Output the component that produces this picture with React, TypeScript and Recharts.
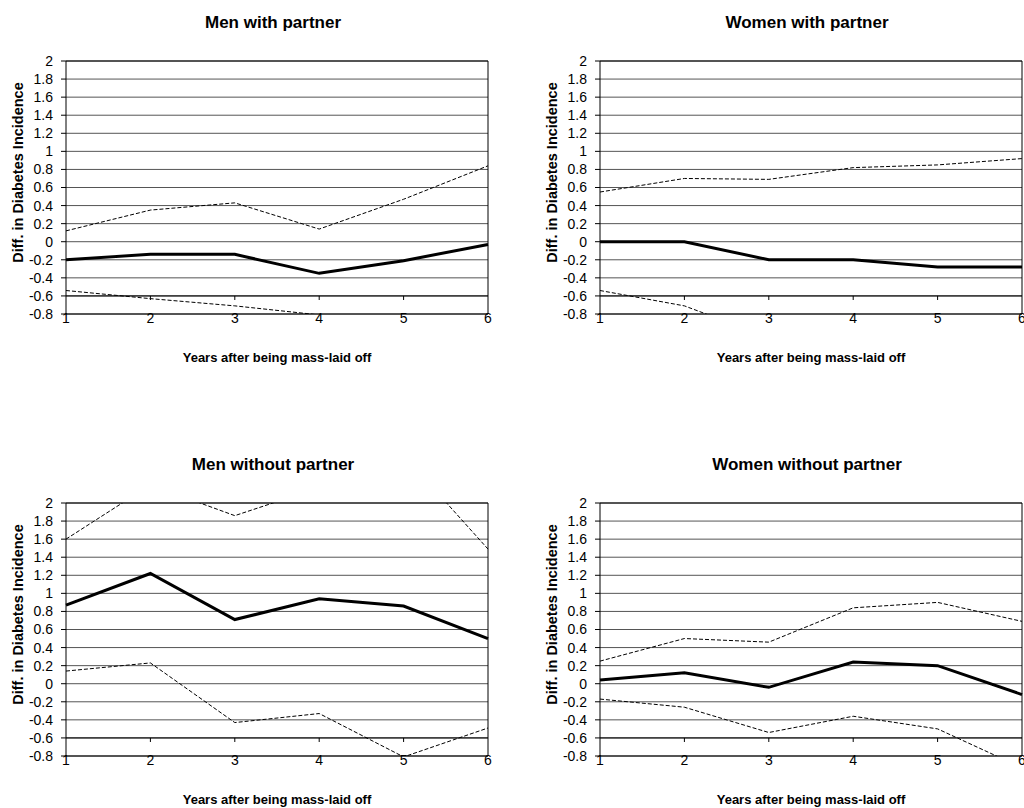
import { LineChart, Line, XAxis, YAxis, CartesianGrid, ReferenceLine, Label } from "recharts";

const years = [1, 2, 3, 4, 5, 6];
const yTicks = [-0.8, -0.6, -0.4, -0.2, 0, 0.2, 0.4, 0.6, 0.8, 1, 1.2, 1.4, 1.6, 1.8, 2];

const menPartnerMean = [-0.2, -0.14, -0.14, -0.35, -0.21, -0.03];
const menPartnerUpper = [0.12, 0.35, 0.43, 0.14, 0.47, 0.84];
const menPartnerLower = [-0.54, -0.63, -0.71, -0.81, -0.95, -0.9];

const womenPartnerMean = [0, 0, -0.2, -0.2, -0.28, -0.28];
const womenPartnerUpper = [0.55, 0.7, 0.69, 0.82, 0.85, 0.92];
const womenPartnerLower = [-0.54, -0.71, -1.06, -1.1, -1.2, -1.2];

const menAloneMean = [0.87, 1.22, 0.71, 0.94, 0.86, 0.5];
const menAloneUpper = [1.6, 2.2, 1.86, 2.17, 2.53, 1.49];
const menAloneLower = [0.14, 0.23, -0.43, -0.33, -0.81, -0.49];

const womenAloneMean = [0.04, 0.12, -0.04, 0.24, 0.2, -0.12];
const womenAloneUpper = [0.25, 0.5, 0.46, 0.84, 0.9, 0.69];
const womenAloneLower = [-0.17, -0.26, -0.54, -0.36, -0.5, -0.93];

const FONT = '"Liberation Sans", Arial, sans-serif';
const CHART_W = 500;
const CHART_H = 366;
const AXIS_W = 66;
const PLOT_W = 422;

function rows(mean: number[], upper: number[], lower: number[]) {
  return years.map((year, i) => ({ year, mean: mean[i], upper: upper[i], lower: lower[i] }));
}

function yTitle(props: any) {
  const { x, y, height } = props.viewBox;
  const cx = x + 18;
  const cy = y + height / 2 - 15;
  return (
    <text
      x={cx}
      y={cy}
      transform={`rotate(-90 ${cx} ${cy})`}
      textAnchor="middle"
      dominantBaseline="central"
      fontSize={14.5}
      fontWeight="bold"
      fill="#000"
    >
      Diff. in Diabetes Incidence
    </text>
  );
}

function Panel({
  title,
  left,
  top,
  mean,
  upper,
  lower,
}: {
  title: string;
  left: number;
  top: number;
  mean: number[];
  upper: number[];
  lower: number[];
}) {
  const data = rows(mean, upper, lower);
  return (
    <div style={{ position: "absolute", left, top, width: CHART_W, height: CHART_H }}>
      <div
        style={{
          position: "absolute",
          left: AXIS_W - 4,
          width: PLOT_W,
          top: 13,
          lineHeight: "20px",
          textAlign: "center",
          fontWeight: "bold",
          fontSize: 17,
        }}
      >
        {title}
      </div>
      <LineChart
        width={CHART_W}
        height={CHART_H}
        data={data}
        margin={{ top: 61, right: 12, bottom: 28, left: 0 }}
        style={{ fontFamily: FONT }}
      >
        <CartesianGrid vertical={false} stroke="#555" strokeWidth={1} />
        <XAxis
          dataKey="year"
          type="number"
          domain={[1, 6]}
          ticks={years}
          height={24}
          tickLine={false}
          tickSize={0}
          tickMargin={-1}
          axisLine={{ stroke: "#000" }}
          tick={{ fill: "#000", fontSize: 14 }}
        />
        <YAxis
          type="number"
          domain={[-0.8, 2]}
          ticks={yTicks}
          allowDataOverflow
          interval={0}
          width={AXIS_W}
          tickSize={5}
          tickMargin={8}
          axisLine={{ stroke: "#000" }}
          tickLine={{ stroke: "#000" }}
          tick={{ fill: "#000", fontSize: 14 }}
        >
          <Label content={yTitle} />
        </YAxis>
        <ReferenceLine y={2} stroke="#000" />
        <ReferenceLine x={6} stroke="#000" />
        <ReferenceLine y={-0.6} stroke="#000" />
        {years.slice(1, -1).map((yr) => (
          <ReferenceLine
            key={yr}
            segment={[
              { x: yr, y: -0.6 },
              { x: yr, y: -0.645 },
            ]}
            stroke="#000"
          />
        ))}
        <Line
          dataKey="upper"
          stroke="#000"
          strokeWidth={1}
          strokeDasharray="4 2"
          dot={false}
          isAnimationActive={false}
        />
        <Line
          dataKey="lower"
          stroke="#000"
          strokeWidth={1}
          strokeDasharray="4 2"
          dot={false}
          isAnimationActive={false}
        />
        <Line dataKey="mean" stroke="#000" strokeWidth={3} dot={false} isAnimationActive={false} />
      </LineChart>
      <div
        style={{
          position: "absolute",
          left: AXIS_W,
          width: PLOT_W,
          top: 350,
          lineHeight: "16px",
          textAlign: "center",
          fontWeight: "bold",
          fontSize: 13,
        }}
      >
        Years after being mass-laid off
      </div>
    </div>
  );
}

export default function App() {
  return (
    <div
      style={{
        position: "absolute",
        left: 0,
        top: 0,
        width: 1024,
        height: 808,
        overflow: "hidden",
        background: "#fff",
        fontFamily: FONT,
        color: "#000",
      }}
    >
      <Panel title="Men with partner" left={0} top={0} mean={menPartnerMean} upper={menPartnerUpper} lower={menPartnerLower} />
      <Panel title="Women with partner" left={534} top={0} mean={womenPartnerMean} upper={womenPartnerUpper} lower={womenPartnerLower} />
      <Panel title="Men without partner" left={0} top={442} mean={menAloneMean} upper={menAloneUpper} lower={menAloneLower} />
      <Panel title="Women without partner" left={534} top={442} mean={womenAloneMean} upper={womenAloneUpper} lower={womenAloneLower} />
    </div>
  );
}
